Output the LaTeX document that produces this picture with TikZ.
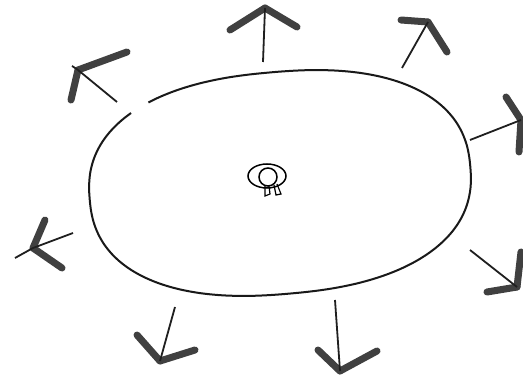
\documentclass[tikz,border=0pt]{standalone}
\begin{document}
\begin{tikzpicture}[x=1pt,y=-1pt,
  shaft/.style={line width=1.8pt,black!88},
  head/.style={line width=7pt,black!75,line cap=round},
  rim/.style={line width=2pt,black!90},
  declare function={sx(\t)=sign(cos(\t))*pow(abs(cos(\t)),0.85);
                    sy(\t)=sign(sin(\t))*pow(abs(sin(\t)),0.85);}]
\useasboundingbox (0,0) rectangle (523,377);
\fill[white] (0,0) rectangle (523,377);
% body outline (slightly tilted rounded oval) with a gap at upper left
\draw[rim] plot[smooth,domain=135:487,samples=140,variable=\t]
  ({280+191*sx(\t)*cos(5)-111*sy(\t)*sin(5)},{183-191*sx(\t)*sin(5)-111*sy(\t)*cos(5)});
% center swirl
\draw[line width=1.5pt] (267,176) ellipse (19 and 12);
\draw[line width=1.5pt] (268,177) circle (9);
\draw[line width=1.2pt] (265,186) -- (265,196) -- (270,194) -- (269,186);
\draw[line width=1.2pt] (274,185) -- (276,195) -- (281,194) -- (277,184);
% arrows: shaft from start to tip; heads from tip
\foreach \ax/\ay/\tx/\ty/\lx/\ly/\rx/\ry in {
  263/62/265/8/230/30/297/27,
  402/68/428/22/401/20/447/52,
  470/140/521/120/506/97/519/152,
  470/250/517/287/521/252/487/292,
  335/300/340/371/318/350/377/351,
  175/307/160/361/137/335/195/350,
  73/233/33/248/45/220/62/268,
  117/102/78/70/127/52/71/100}{
  \coordinate (t) at (\tx,\ty);
  \draw[head] (t) -- (\lx,\ly);
  \draw[head] (t) -- (\rx,\ry);
  \draw[shaft] (\ax,\ay) -- (t);
}
\draw[shaft] (33,248) -- (15,258);
\draw[shaft] (78,70) -- (72,66);
\end{tikzpicture}
\end{document}
